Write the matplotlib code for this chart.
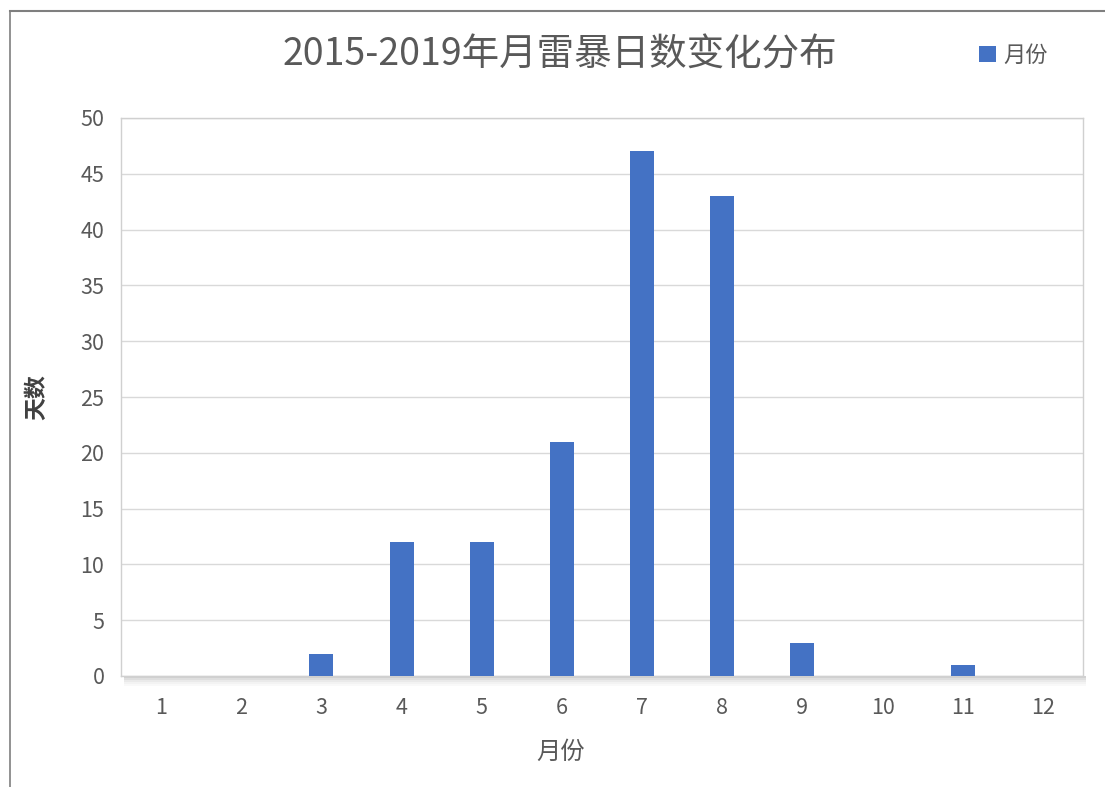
import matplotlib
matplotlib.use("Agg")
import matplotlib.pyplot as plt
from matplotlib.patches import Rectangle
from matplotlib.lines import Line2D

plt.rcParams['font.family'] = ['Noto Sans CJK SC', 'DejaVu Sans']

months = ['1', '2', '3', '4', '5', '6', '7', '8', '9', '10', '11', '12']
days = [0, 0, 2, 12, 12, 21, 47, 43, 3, 0, 1, 0]
title = '2015-2019年月雷暴日数变化分布'
series_name = '月份'
xlabel = '月份'
ylabel = '天数'
yticks = [0, 5, 10, 15, 20, 25, 30, 35, 40, 45, 50]

bar_color = '#4472C4'
text_color = '#595959'

fig = plt.figure(figsize=(11.05, 7.87), dpi=100)
fig.patch.set_facecolor('white')

# outer frame lines (top and left)
fig.add_artist(Line2D([10/1105, 1.0], [1 - 11/787, 1 - 11/787], color='#7f7f7f', lw=1.5))
fig.add_artist(Line2D([10/1105, 10/1105], [0, 1 - 11/787], color='#7f7f7f', lw=1.2))

left, right, bottom, top = 121/1105, 1083/1105, (787-676)/787, (787-118)/787
ax = fig.add_axes([left, bottom, right-left, top-bottom])

# shadow under the plot area
for i, a in enumerate([0.45, 0.32, 0.2, 0.11, 0.05]):
    fig.add_artist(Rectangle((left + 3/1105, bottom - (i+1)*2/787), right-left, 2/787,
                             transform=fig.transFigure, facecolor='#9a9a9a', alpha=a,
                             edgecolor='none', zorder=0))

x = list(range(len(months)))
ax.bar(x, days, width=0.3, color=bar_color, zorder=3, label=series_name)
ax.set_xlim(-0.5, len(months) - 0.5)
ax.set_ylim(0, 50)
ax.set_yticks(yticks)
ax.set_xticks(x)
ax.set_xticklabels(months)
ax.yaxis.grid(True, color='#d9d9d9', lw=1.0, zorder=0)
ax.set_axisbelow(True)
for s in ax.spines.values():
    s.set_color('#d0d0d0')
    s.set_linewidth(1.0)
ax.tick_params(axis='both', length=0, labelsize=15.5, colors=text_color)
ax.tick_params(axis='y', pad=12)
ax.tick_params(axis='x', pad=15)

ax.set_xlabel(xlabel, fontsize=17.5, color=text_color)
ax.xaxis.set_label_coords(0.457, -0.112)
ax.set_ylabel(ylabel, fontsize=16.5, color='#404040', fontweight='bold')
ax.yaxis.set_label_coords(-0.076, 0.5)

fig.text(560/1105, 1 - 55/787, title, ha='center', va='center', fontsize=27, color=text_color)
fig.legend(loc='center left', bbox_to_anchor=(959/1105, 1 - 55/787), frameon=False,
           fontsize=16, labelcolor=text_color, handlelength=0.75, handleheight=0.75,
           handletextpad=0.35)

fig.savefig('out.png', dpi=100, facecolor='white')
